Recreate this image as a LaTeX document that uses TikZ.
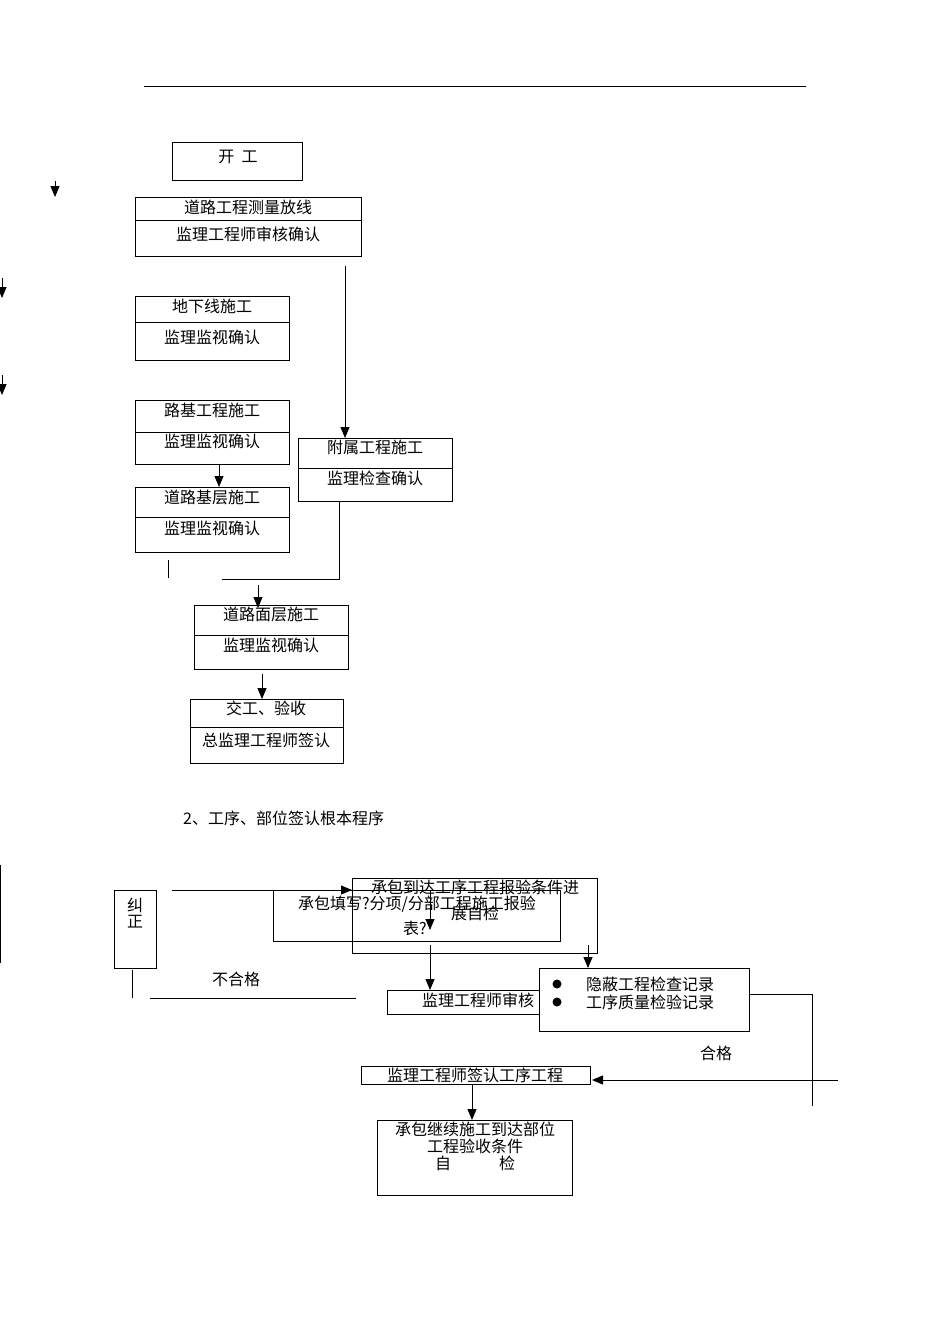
\documentclass[tikz,border=0pt]{standalone}
\usepackage{fontspec}
\setmainfont{Noto Sans CJK SC}
\usetikzlibrary{arrows.meta}
\begin{document}
\begin{tikzpicture}[x=1pt,y=-1pt,
  bx/.style={draw,line width=0.8pt},
  tx/.style={font=\fontsize{16}{18}\selectfont,inner sep=0pt},
  ln/.style={line width=0.8pt},
  ar/.style={ln,-{Triangle[length=11pt,width=9pt]}}]
\useasboundingbox[fill=white] (0,0) rectangle (950,1344);
\draw[ln] (144,86) -- (806,86);
% top flow
\draw[bx] (172,142) rectangle (302,180); \node[tx] (kg) at (238,157) {开\ \ 工};
\coordinate (a0s) at (55,181); \coordinate (a0e) at (55,197); \draw[ar] (a0s) -- (a0e);
\draw[bx] (135,197) rectangle (361,256); \draw[ln] (135,220) -- (361,220);
\node[tx] (b1a) at (248,207) {道路工程测量放线};
\node[tx] (b1b) at (248,234) {监理工程师审核确认};
\coordinate (l1s) at (2,278); \coordinate (l1e) at (2,298); \draw[ar] (l1s) -- (l1e);
\coordinate (l2s) at (2,375); \coordinate (l2e) at (2,395); \draw[ar] (l2s) -- (l2e);
\draw[bx] (135,296) rectangle (289,360); \draw[ln] (135,322) -- (289,322);
\node[tx] (b2a) at (212,306) {地下线施工};
\node[tx] (b2b) at (212,337) {监理监视确认};
\draw[bx] (135,400) rectangle (289,464); \draw[ln] (135,432) -- (289,432);
\node[tx] (b3a) at (212,410) {路基工程施工};
\node[tx] (b3b) at (212,441) {监理监视确认};
\coordinate (c3s) at (219,464); \coordinate (c3e) at (219,487); \draw[ar] (c3s) -- (c3e);
\draw[bx] (135,487) rectangle (289,552); \draw[ln] (135,517) -- (289,517);
\node[tx] (b4a) at (212,497) {道路基层施工};
\node[tx] (b4b) at (212,528) {监理监视确认};
\draw[bx] (298,438) rectangle (452,501); \draw[ln] (298,468) -- (452,468);
\node[tx] (b5a) at (375,447) {附属工程施工};
\node[tx] (b5b) at (375,478) {监理检查确认};
\coordinate (c1s) at (345,266); \coordinate (c1e) at (345,438); \draw[ar] (c1s) -- (c1e);
\coordinate (c5s) at (339,501); \coordinate (c5m) at (339,579); \coordinate (c5e) at (222,579);
\draw[ln] (c5s) -- (c5m) -- (c5e);
\coordinate (t1) at (168,560); \coordinate (t2) at (168,578); \draw[ln] (t1) -- (t2);
\coordinate (c6s) at (258,585); \coordinate (c6e) at (258,608); \draw[ar] (c6s) -- (c6e);
\draw[bx] (194,605) rectangle (348,669); \draw[ln] (194,635) -- (348,635);
\node[tx] (b6a) at (271,614) {道路面层施工};
\node[tx] (b6b) at (271,645) {监理监视确认};
\coordinate (c7s) at (262,674); \coordinate (c7e) at (262,699); \draw[ar] (c7s) -- (c7e);
\draw[bx] (190,699) rectangle (343,763); \draw[ln] (190,727) -- (343,727);
\node[tx] (b7a) at (266,708) {交工、验收};
\node[tx] (b7b) at (266,740) {总监理工程师签认};
\node[tx,anchor=west] (h2) at (183,818) {2、工序、部位签认根本程序};
% bottom flow
\coordinate (v1) at (0,865); \coordinate (v2) at (0,963); \draw[ln] (v1) -- (v2);
\draw[bx] (114,890) rectangle (156,968);
\node[tx] (jz1) at (135,905) {纠};
\node[tx] (jz2) at (135,922) {正};
\coordinate (j1) at (132,970); \coordinate (j2) at (132,998); \draw[ln] (j1) -- (j2);
\draw[bx] (352,878) rectangle (597,953);
\draw[bx] (273,890) rectangle (560,941);
\node[tx] (ta1) at (475,887) {承包到达工序工程报验条件进};
\node[tx] (ta2) at (475,913) {展自检};
\node[tx] (tb1) at (417,904) {承包填写?分项/分部工程施工报验};
\node[tx] (tb2) at (415,928) {表?};
\coordinate (h1) at (172,890); \coordinate (h2p) at (352,890); \coordinate (h3) at (430,890); \coordinate (h4) at (430,930);
\draw[ar] (h1) -- (h2p); \draw[ln] (h2p) -- (h3); \draw[ar] (h3) -- (h4);
\coordinate (d1s) at (430,945); \coordinate (d1e) at (430,990); \draw[ar] (d1s) -- (d1e);
\coordinate (d2s) at (588,945); \coordinate (d2e) at (588,968); \draw[ar] (d2s) -- (d2e);
\draw[bx] (387,990) rectangle (547,1014);
\node[tx] (sh) at (478,1000) {监理工程师审核};
\draw[bx,fill=white] (539,968) rectangle (749,1031);
\fill (557,984) circle (4.5); \fill (557,1002) circle (4.5);
\node[tx,anchor=west] (y1) at (586,984) {隐蔽工程检查记录};
\node[tx,anchor=west] (y2) at (586,1002) {工序质量检验记录};
\node[tx] (bhg) at (236,979) {不合格};
\coordinate (n1) at (150,998); \coordinate (n2) at (356,998); \draw[ln] (n1) -- (n2);
\coordinate (r1) at (749,994); \coordinate (r2) at (812,994); \coordinate (r3) at (812,1106);
\draw[ln] (r1) -- (r2) -- (r3);
\node[tx] (hg) at (716,1053) {合格};
\draw[bx] (361,1066) rectangle (590,1084);
\node[tx] (qr) at (475,1075) {监理工程师签认工序工程};
\coordinate (g1) at (838,1080); \coordinate (g2) at (592,1080); \draw[ar] (g1) -- (g2);
\coordinate (e1) at (472,1084); \coordinate (e2) at (472,1120); \draw[ar] (e1) -- (e2);
\draw[bx] (377,1120) rectangle (572,1195);
\node[tx] (k1) at (475,1129) {承包继续施工到达部位};
\node[tx] (k2) at (475,1146) {工程验收条件};
\node[tx] (k3) at (475,1163) {自\qquad\quad 检};
\end{tikzpicture}
\end{document}
